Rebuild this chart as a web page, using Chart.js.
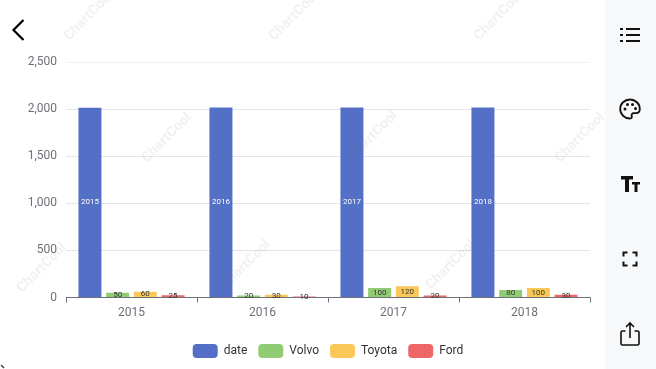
<!DOCTYPE html>
<html>
<head>
<meta charset="utf-8">
<script src="https://cdn.jsdelivr.net/npm/chart.js@4/dist/chart.umd.min.js"></script>
<style>
  html, body { margin: 0; padding: 0; background: #fff; }
  #wrap { position: relative; width: 656px; height: 369px; overflow: hidden; }
  #side { position: absolute; left: 605px; top: 0; width: 51px; height: 369px; background: #f7f8fa; }
  #side svg, #back, #corner { position: absolute; }
</style>
</head>
<body>
<div id="wrap">
  <canvas id="chart" width="656" height="369"></canvas>
  <svg id="back" style="left:8px;top:18px" width="20" height="24" viewBox="0 0 20 24">
    <path d="M15.5 2 L5.5 12 L15.5 22" fill="none" stroke="#000" stroke-width="2.2"/>
  </svg>
  <svg id="corner" style="left:0;top:363px" width="6" height="6" viewBox="0 0 6 6">
    <path d="M1 2 L4 5" fill="none" stroke="#333" stroke-width="1.2"/>
  </svg>
  <div id="side">
    <svg style="left:14px;top:25px" width="22" height="20" viewBox="0 0 22 20" fill="#111">
      <rect x="1" y="3" width="3" height="2"/><rect x="7" y="3" width="14" height="2"/>
      <rect x="1" y="9" width="3" height="2"/><rect x="7" y="9" width="14" height="2"/>
      <rect x="1" y="15" width="3" height="2"/><rect x="7" y="15" width="14" height="2"/>
    </svg>
    <svg style="left:14px;top:98px" width="22" height="22" viewBox="0 0 22 22">
      <path d="M11 1.5 C5.5 1.5 1.2 5.7 1.2 11 C1.2 16.3 5.5 20.5 11 20.5 C12.6 20.5 13.2 19.4 12.7 18.2 C12.1 16.7 13 15.2 14.8 15.2 L17 15.2 C19.3 15.2 20.8 13.5 20.8 11 C20.8 5.7 16.4 1.5 11 1.5 Z" fill="none" stroke="#111" stroke-width="1.8"/>
      <circle cx="6" cy="11" r="1.5" fill="#111"/><circle cx="8.5" cy="6.5" r="1.5" fill="#111"/>
      <circle cx="13.5" cy="6.5" r="1.5" fill="#111"/><circle cx="16.5" cy="10.5" r="1.5" fill="#111"/>
    </svg>
    <svg style="left:15px;top:173px" width="22" height="22" viewBox="0 0 22 22" fill="#111">
      <path d="M1 3 H13 V6.5 H9 V19 H5 V6.5 H1 Z"/>
      <path d="M12 9 H20 V11.5 H17.5 V19 H14.5 V11.5 H12 Z"/>
    </svg>
    <svg style="left:17px;top:251px" width="16" height="16" viewBox="0 0 16 16" fill="none" stroke="#111" stroke-width="2">
      <path d="M1.5 5.5 V1.5 H5.5 M10.5 1.5 H14.5 V5.5 M14.5 10.5 V14.5 H10.5 M5.5 14.5 H1.5 V10.5"/>
    </svg>
    <svg style="left:14px;top:321px" width="22" height="26" viewBox="0 0 22 26" fill="none" stroke="#111" stroke-width="1.6">
      <path d="M6.5 10 H3.5 Q2 10 2 11.5 V22.5 Q2 24 3.5 24 H18.5 Q20 24 20 22.5 V11.5 Q20 10 18.5 10 H15.5"/>
      <path d="M11 17 V2 M7 6 L11 2 L15 6"/>
    </svg>
  </div>
</div>
<script>
var categories = ["2015", "2016", "2017", "2018"];
var dateValues = [2015, 2016, 2017, 2018];
var volvoValues = [50, 20, 100, 80];
var toyotaValues = [60, 30, 120, 100];
var fordValues = [25, 10, 20, 30];
var yTicks = [0, 500, 1000, 1500, 2000, 2500];
var watermarkSpots = [
  [89, 16], [294, 16], [499, 16],
  [167, 138], [373, 136], [580, 138],
  [42, 268], [246, 265], [451, 265]
];

var fontName = "Roboto, sans-serif";

// year labels and values written in the middle of each bar
var barLabels = {
  id: "barLabels",
  afterDatasetsDraw: function (chart) {
    var ctx = chart.ctx;
    ctx.save();
    ctx.font = "8px " + fontName;
    ctx.textAlign = "center";
    ctx.textBaseline = "middle";
    chart.data.datasets.forEach(function (ds, d) {
      chart.getDatasetMeta(d).data.forEach(function (bar, i) {
        ctx.fillStyle = d === 0 ? "#ffffff" : "#333333";
        ctx.fillText(ds.data[i], bar.x, (bar.y + bar.base) / 2);
      });
    });
    ctx.restore();
  }
};

var watermark = {
  id: "watermark",
  afterDraw: function (chart) {
    var ctx = chart.ctx;
    ctx.save();
    ctx.font = "bold 14px " + fontName;
    ctx.textAlign = "center";
    ctx.textBaseline = "middle";
    ctx.fillStyle = "rgba(120,120,120,0.1)";
    watermarkSpots.forEach(function (p) {
      ctx.save();
      ctx.translate(p[0], p[1]);
      ctx.rotate(-Math.PI / 4);
      ctx.fillText("ChartCool", 0, 0);
      ctx.restore();
    });
    ctx.restore();
  }
};

function makeSet(label, values, color) {
  return {
    label: label,
    data: values,
    backgroundColor: color,
    borderWidth: 0,
    borderRadius: 0,
    categoryPercentage: 0.846,
    barPercentage: 0.83
  };
}

new Chart(document.getElementById("chart"), {
  type: "bar",
  data: {
    labels: categories,
    datasets: [
      makeSet("date", dateValues, "#5470c6"),
      makeSet("Volvo", volvoValues, "#91cc75"),
      makeSet("Toyota", toyotaValues, "#fac858"),
      makeSet("Ford", fordValues, "#ee6666")
    ]
  },
  plugins: [barLabels, watermark],
  options: {
    responsive: false,
    animation: false,
    layout: { padding: { left: 0, right: 0, top: 62, bottom: 1 } },
    plugins: {
      tooltip: { enabled: false },
      legend: {
        position: "bottom",
        align: "center",
        onClick: null,
        labels: {
          boxWidth: 25,
          boxHeight: 14,
          useBorderRadius: true,
          borderRadius: 4,
          padding: 11,
          color: "#333333",
          font: { family: fontName, size: 12 }
        }
      }
    },
    scales: {
      x: {
        grid: { drawOnChartArea: false, drawTicks: true, tickLength: 5, color: "#6e7079", offset: true },
        border: { color: "#6e7079" },
        ticks: { color: "#6e7079", padding: 3, font: { family: fontName, size: 12 }, maxRotation: 0 },
        afterFit: function (axis) { axis.height = 35.5; }
      },
      y: {
        min: 0,
        max: 2500,
        afterBuildTicks: function (axis) {
          axis.ticks = yTicks.map(function (v) { return { value: v }; });
        },
        grid: {
          drawTicks: false,
          color: function (c) { return c.tick && c.tick.value === 2500 ? "#eef0f6" : "#e0e6f1"; }
        },
        border: { display: false },
        ticks: {
          color: "#6e7079",
          padding: 9,
          font: { family: fontName, size: 12 },
          callback: function (v) { return v.toLocaleString("en-US"); }
        },
        afterFit: function (axis) { axis.width = 66; }
      },
      // empty axis on the right, keeps the plot clear of the side panel while the legend stays centred
      spacer: {
        position: "right",
        display: true,
        grid: { display: false },
        border: { display: false },
        ticks: { display: false },
        afterFit: function (axis) { axis.width = 66; }
      }
    }
  }
});
</script>
</body>
</html>
